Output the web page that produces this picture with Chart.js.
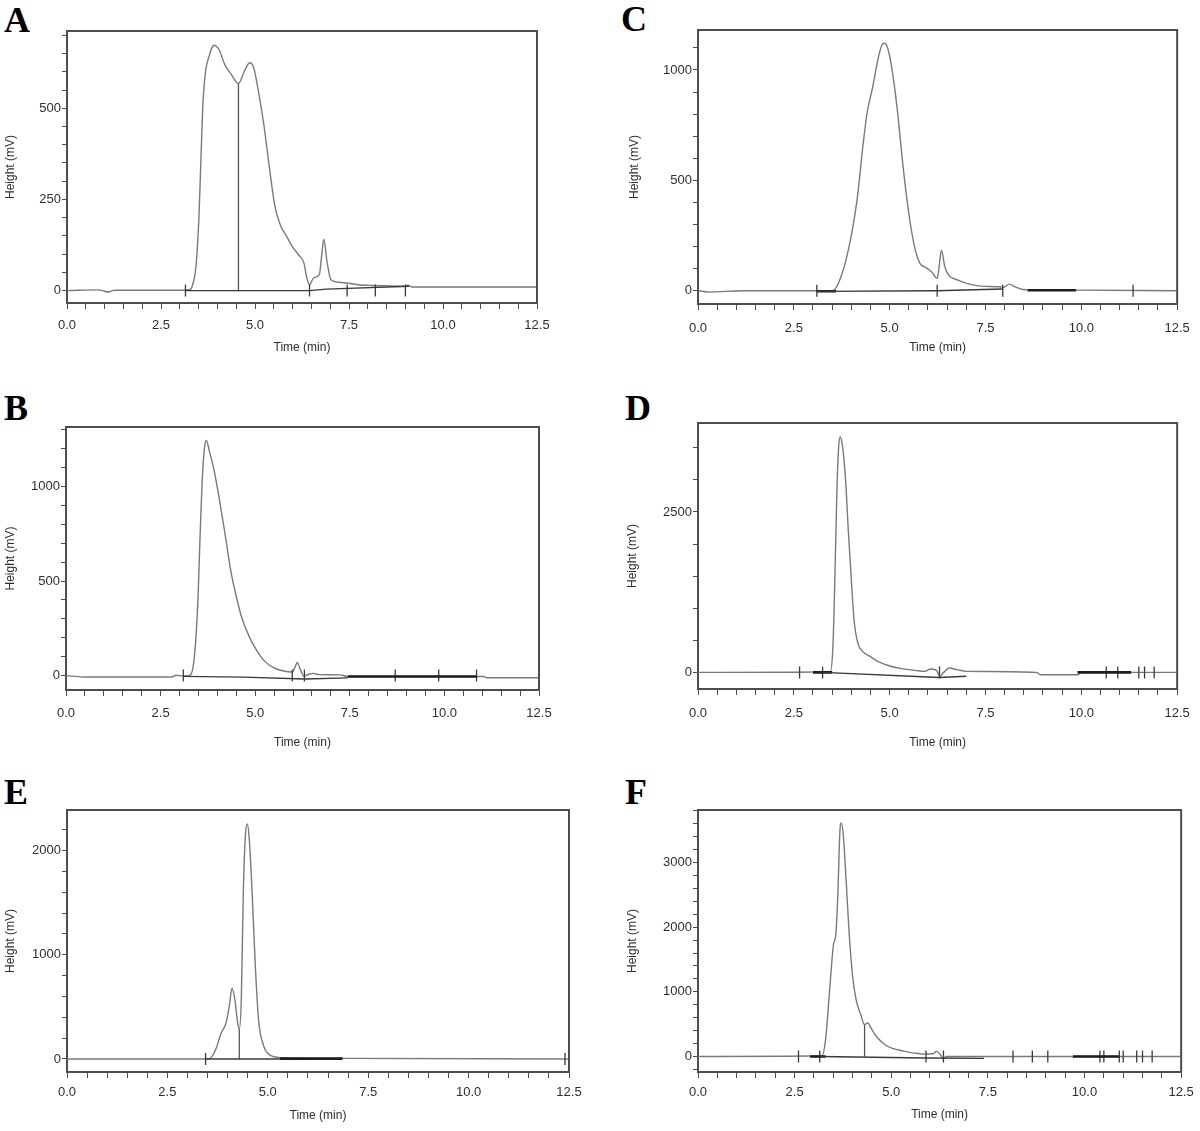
<!DOCTYPE html>
<html>
<head>
<meta charset="utf-8">
<script src="https://cdn.jsdelivr.net/npm/chart.js@4.4.1/dist/chart.umd.min.js"></script>
<style>
  body { margin: 0; background: #fff; width: 1200px; height: 1131px; position: relative; overflow: hidden; }
  canvas { position: absolute; }
  .tag { position: absolute; font-family: 'Liberation Serif', 'DejaVu Serif', serif; font-weight: bold; font-size: 36px; line-height: 36px; color: #000; }
</style>
</head>
<body>
<div class="tag" style="left:4px;top:2px">A</div>
<div class="tag" style="left:621px;top:1px">C</div>
<div class="tag" style="left:4px;top:390px">B</div>
<div class="tag" style="left:625px;top:390px">D</div>
<div class="tag" style="left:4px;top:774px">E</div>
<div class="tag" style="left:625px;top:774px">F</div>
<canvas id="chartA"></canvas>
<canvas id="chartC"></canvas>
<canvas id="chartB"></canvas>
<canvas id="chartD"></canvas>
<canvas id="chartE"></canvas>
<canvas id="chartF"></canvas>
<script>
// общие подписи оси времени
const timeTickValues = [0, 2.5, 5, 7.5, 10, 12.5];
const timeTickLabels = ['0.0', '2.5', '5.0', '7.5', '10.0', '12.5'];

// --- A ---
const timeA = [0, 0.85, 0.95, 1.1, 1.2, 1.3, 3.0, 3.28, 3.33, 3.43, 3.51, 3.57, 3.62, 3.69, 3.79, 3.85, 3.91, 3.97, 4.05, 4.2, 4.35, 4.56, 4.71, 4.82, 4.87, 4.97, 5.07, 5.23, 5.38, 5.53, 5.69, 5.84, 5.99, 6.15, 6.3, 6.37, 6.45, 6.56, 6.71, 6.78, 6.83, 6.92, 7.02, 7.22, 7.43, 7.74, 8.15, 8.97, 9.07, 9.17, 12.5];
const heightA = [0, 2, 0, -4, 0, 1, 1, 3, 12, 67, 203, 386, 523, 605, 646, 665, 673, 670, 660, 619, 596, 568, 600, 622, 625, 610, 559, 459, 340, 231, 176, 149, 121, 99, 76, 39, 16, 35, 44, 103, 141, 76, 30, 23, 21, 16, 14, 12, 15, 10, 10];
const yLabelsA = [0, 250, 500];
const baseTimeA = [3.15, 6.45, 6.9, 9.1];
const baseHeightA = [0, 0, 4, 12];
const thickTimeA = [];
const thickHeightA = [];
const markA = [3.15, 6.45, 7.45, 8.2, 9.0];
const dropTimeA = [4.56];
const dropHeightA = [568];

// --- C ---
const timeC = [0, 0.3, 1.15, 3.5, 3.57, 3.66, 3.76, 3.86, 4.01, 4.16, 4.31, 4.41, 4.56, 4.7, 4.8, 4.87, 4.95, 5.05, 5.2, 5.35, 5.5, 5.65, 5.79, 5.94, 6.09, 6.24, 6.29, 6.35, 6.44, 6.54, 6.78, 7.08, 7.38, 7.87, 7.97, 8.12, 8.27, 8.47, 9.86, 12.5];
const heightC = [0, -6, 0, 0, 6, 33, 79, 139, 260, 426, 668, 804, 925, 1053, 1113, 1121, 1098, 1015, 819, 562, 350, 199, 124, 106, 86, 56, 109, 184, 109, 71, 48, 30, 21, 18, 15, 30, 18, 6, 3, 0];
const yLabelsC = [0, 500, 1000];
const baseTimeC = [3.1, 6.24, 7.95];
const baseHeightC = [-3, 0, 8];
const thickTimeC = [3.1, 3.6, 3.6, 8.6, 9.86];
const thickHeightC = [-2, -2, null, 2, 2];
const markC = [3.1, 6.24, 7.95, 11.35];
const dropTimeC = [];
const dropHeightC = [];

// --- B ---
const timeB = [0, 0.45, 2.8, 2.9, 3.1, 3.28, 3.36, 3.43, 3.49, 3.54, 3.61, 3.67, 3.71, 3.79, 3.91, 4.04, 4.2, 4.35, 4.5, 4.65, 4.86, 5.06, 5.26, 5.47, 5.72, 5.98, 6.06, 6.11, 6.18, 6.28, 6.38, 6.53, 6.69, 7.25, 7.45, 11.06, 11.1, 12.5];
const heightB = [0, -7, -7, 2, -2, 3, 48, 189, 418, 718, 1071, 1220, 1243, 1185, 1088, 947, 753, 559, 418, 303, 198, 127, 74, 44, 26, 19, 48, 69, 39, -2, 4, 12, 5, 4, -5, -5, -11, -11];
const yLabelsB = [0, 500, 1000];
const baseTimeB = [3.1, 4.7, 6.3, 7.45];
const baseHeightB = [-4, -8, -18, -12];
const thickTimeB = [7.45, 10.85];
const thickHeightB = [-5, -5];
const markB = [3.1, 5.98, 6.3, 8.7, 9.85, 10.85];
const dropTimeB = [];
const dropHeightB = [];

// --- D ---
const timeD = [0, 3.45, 3.52, 3.57, 3.62, 3.67, 3.71, 3.77, 3.85, 3.92, 4.0, 4.07, 4.17, 4.29, 4.49, 4.69, 4.98, 5.28, 5.67, 5.92, 6.07, 6.22, 6.31, 6.41, 6.56, 6.76, 7.0, 8.83, 8.93, 9.91, 10.0, 12.5];
const heightD = [0, 10, 405, 1445, 2744, 3524, 3669, 3524, 3004, 2225, 1445, 821, 457, 327, 249, 172, 104, 62, 31, 16, 52, 31, -62, 0, 68, 42, 16, 0, -36, -36, 0, 0];
const yLabelsD = [0, 2500];
const baseTimeD = [3.25, 6.3, 7.0];
const baseHeightD = [0, -80, -60];
const thickTimeD = [3.0, 3.5, 3.5, 9.9, 11.3];
const thickHeightD = [0, 0, null, 0, 0];
const markD = [2.65, 3.25, 6.3, 10.65, 10.95, 11.5, 11.65, 11.9];
const dropTimeD = [];
const dropHeightD = [];

// --- E ---
const timeE = [0, 3.45, 3.56, 3.7, 3.84, 3.96, 4.04, 4.11, 4.18, 4.25, 4.29, 4.34, 4.39, 4.44, 4.49, 4.54, 4.61, 4.69, 4.77, 4.9, 5.04, 5.33, 6.86, 12.5];
const heightE = [0, 0, 6, 89, 249, 345, 505, 680, 569, 345, 288, 569, 1591, 2134, 2256, 2102, 1591, 888, 377, 121, 42, 13, 6, 0];
const yLabelsE = [0, 1000, 2000];
const baseTimeE = [3.45, 5.3];
const baseHeightE = [0, 0];
const thickTimeE = [5.3, 6.86];
const thickHeightE = [3, 3];
const markE = [3.45, 12.4];
const dropTimeE = [4.29];
const dropHeightE = [288];

// --- F ---
const timeF = [0, 3.21, 3.3, 3.4, 3.5, 3.57, 3.62, 3.67, 3.71, 3.76, 3.83, 3.91, 4.0, 4.09, 4.21, 4.31, 4.39, 4.5, 4.65, 4.84, 5.03, 5.32, 5.6, 5.84, 6.08, 6.18, 6.27, 6.34, 6.42, 7.42, 12.5];
const heightF = [0, 10, 259, 984, 1710, 1917, 2539, 3471, 3616, 3420, 2746, 1917, 1243, 881, 648, 492, 518, 414, 285, 181, 124, 83, 52, 36, 41, 78, 26, -36, 0, 0, 0];
const yLabelsF = [0, 1000, 2000, 3000];
const baseTimeF = [3.15, 5.9, 7.4];
const baseHeightF = [0, -25, -30];
const thickTimeF = [2.9, 3.3, 3.3, 9.7, 10.9];
const thickHeightF = [0, 0, null, 0, 0];
const markF = [2.6, 3.15, 5.9, 6.35, 8.15, 8.65, 9.05, 10.4, 10.5, 10.9, 11.0, 11.35, 11.5, 11.75];
const dropTimeF = [4.31];
const dropHeightF = [492];

const fontSans = "'Liberation Sans', Arial, sans-serif";
const TICK_FONT = 13, TITLE_FONT = 12;
const TICK_LH = TICK_FONT * 1.2, TITLE_LH = TITLE_FONT * 1.2;
const TICK_LEN = 6;
const axisColor = '#4d4d4d';
const textColor = '#2e2e2e';

// рамка сверху и справа
const frame = {
    id: 'frame',
    afterDraw(chart) {
        const { ctx, chartArea: a } = chart;
        ctx.save();
        ctx.strokeStyle = axisColor;
        ctx.lineWidth = 2;
        ctx.beginPath();
        ctx.moveTo(a.left, a.top);
        ctx.lineTo(a.right, a.top);
        ctx.lineTo(a.right, a.bottom);
        ctx.stroke();
        ctx.restore();
    }
};

const pts = (xs, ys) => xs.map((x, i) => ({ x: x, y: ys[i] }));
const near = (a, b) => Math.abs(a - b) < 1e-6;

// минорные деления с шагом step
function stepTicks(step) {
    return s => {
        const t = [];
        for (let k = Math.ceil(s.min / step - 1e-9); k * step <= s.max + 1e-9; k++) {
            t.push({ value: Math.round(k * step * 1000) / 1000 });
        }
        s.ticks = t;
    };
}

function makeChart(p) {
    const canvas = document.getElementById(p.id);
    const W = p.width;
    const H = Math.round(p.titleCY + 12 - p.top);
    canvas.width = W; canvas.height = H;
    canvas.style.left = p.left + 'px';
    canvas.style.top = p.top + 'px';
    canvas.style.width = W + 'px';
    canvas.style.height = H + 'px';
    const a = p.area;
    const half = 6 * (p.yMax - p.yMin) / (a.b - a.t);

    const marks = [];
    p.marks.forEach(t => marks.push({ x: t, y: -half }, { x: t, y: half }, { x: t, y: null }));
    const drops = [];
    p.dropTime.forEach((t, i) => drops.push({ x: t, y: 0 }, { x: t, y: p.dropHeight[i] }, { x: t, y: null }));

    const line = (data, color, width) => ({
        data: data, borderColor: color, borderWidth: width,
        showLine: true, pointRadius: 0, spanGaps: false, tension: 0
    });
    const signal = line(pts(p.time, p.height), '#7a7a7a', 1.4);
    signal.cubicInterpolationMode = 'monotone';

    new Chart(canvas, {
        type: 'scatter',
        data: {
            datasets: [
                line(pts(p.baseTime, p.baseHeight), '#3a3a3a', 1.4),
                line(pts(p.thickTime, p.thickHeight), '#1e1e1e', 2.6),
                line(marks, '#3a3a3a', 1.3),
                line(drops, '#555', 1.3),
                signal
            ]
        },
        options: {
            responsive: false,
            animation: false,
            events: [],
            layout: { padding: { left: 0, top: a.t - p.top, right: p.left + W - a.r, bottom: 0 } },
            plugins: { legend: { display: false }, tooltip: { enabled: false } },
            scales: {
                x: {
                    type: 'linear', min: 0, max: 12.5,
                    afterFit: s => { s.height = p.top + H - a.b; },
                    afterBuildTicks: stepTicks(0.5),
                    border: { display: true, color: axisColor, width: 2 },
                    grid: { drawOnChartArea: false, drawTicks: true, tickLength: TICK_LEN, tickColor: axisColor, tickWidth: 1 },
                    ticks: {
                        autoSkip: false, maxRotation: 0,
                        padding: p.tickCY - a.b - TICK_LEN - TICK_LH / 2,
                        color: textColor, font: { family: fontSans, size: TICK_FONT },
                        callback: v => {
                            const i = timeTickValues.findIndex(x => near(x, v));
                            return i >= 0 ? timeTickLabels[i] : '';
                        }
                    },
                    title: {
                        display: true, text: 'Time (min)', color: textColor,
                        font: { family: fontSans, size: TITLE_FONT },
                        padding: { top: 0, bottom: p.top + H - p.titleCY - TITLE_LH / 2 }
                    }
                },
                y: {
                    type: 'linear', min: p.yMin, max: p.yMax,
                    afterFit: s => { s.width = a.l - p.left; },
                    afterBuildTicks: stepTicks(p.minor),
                    border: { display: true, color: axisColor, width: 2 },
                    grid: { drawOnChartArea: false, drawTicks: true, tickLength: 5, tickColor: axisColor, tickWidth: 1 },
                    ticks: {
                        autoSkip: false, padding: 1,
                        color: textColor, font: { family: fontSans, size: TICK_FONT },
                        callback: v => p.yLabels.some(m => near(m, v)) ? String(v) : ''
                    },
                    title: {
                        display: true, text: 'Height (mV)', color: textColor,
                        font: { family: fontSans, size: TITLE_FONT },
                        padding: { top: p.ytitleCX - p.left - TITLE_LH / 2, bottom: 0 }
                    }
                }
            }
        },
        plugins: [frame]
    });
}

const panels = [
    { id: 'chartA', left: 0, top: 0, width: 600, area: { l: 67, t: 31, r: 537, b: 303 }, tickCY: 325, titleCY: 348, ytitleCX: 10.6,
      yMin: -34, yMax: 712, minor: 50, yLabels: yLabelsA,
      time: timeA, height: heightA, baseTime: baseTimeA, baseHeight: baseHeightA, thickTime: thickTimeA, thickHeight: thickHeightA,
      marks: markA, dropTime: dropTimeA, dropHeight: dropHeightA },
    { id: 'chartC', left: 610, top: 0, width: 590, area: { l: 698, t: 30, r: 1184, b: 304 }, tickCY: 328, titleCY: 348, ytitleCX: 635,
      yMin: -60, yMax: 1181, minor: 100, yLabels: yLabelsC,
      time: timeC, height: heightC, baseTime: baseTimeC, baseHeight: baseHeightC, thickTime: thickTimeC, thickHeight: thickHeightC,
      marks: markC, dropTime: dropTimeC, dropHeight: dropHeightC },
    { id: 'chartB', left: 0, top: 380, width: 600, area: { l: 66, t: 427, r: 539, b: 690 }, tickCY: 713, titleCY: 743, ytitleCX: 10.6,
      yMin: -76, yMax: 1314, minor: 100, yLabels: yLabelsB,
      time: timeB, height: heightB, baseTime: baseTimeB, baseHeight: baseHeightB, thickTime: thickTimeB, thickHeight: thickHeightB,
      marks: markB, dropTime: dropTimeB, dropHeight: dropHeightB },
    { id: 'chartD', left: 610, top: 380, width: 590, area: { l: 698, t: 423, r: 1185, b: 689 }, tickCY: 713, titleCY: 743, ytitleCX: 633,
      yMin: -259, yMax: 3887, minor: 500, yLabels: yLabelsD,
      time: timeD, height: heightD, baseTime: baseTimeD, baseHeight: baseHeightD, thickTime: thickTimeD, thickHeight: thickHeightD,
      marks: markD, dropTime: dropTimeD, dropHeight: dropHeightD },
    { id: 'chartE', left: 0, top: 760, width: 600, area: { l: 67, t: 810, r: 569, b: 1072 }, tickCY: 1092, titleCY: 1116, ytitleCX: 10.6,
      yMin: -125, yMax: 2390, minor: 200, yLabels: yLabelsE,
      time: timeE, height: heightE, baseTime: baseTimeE, baseHeight: baseHeightE, thickTime: thickTimeE, thickHeight: thickHeightE,
      marks: markE, dropTime: dropTimeE, dropHeight: dropHeightE },
    { id: 'chartF', left: 610, top: 760, width: 590, area: { l: 698, t: 810, r: 1196, b: 1072 }, tickCY: 1092, titleCY: 1115, ytitleCX: 633,
      yMin: -241, yMax: 3815, minor: 200, yLabels: yLabelsF,
      time: timeF, height: heightF, baseTime: baseTimeF, baseHeight: baseHeightF, thickTime: thickTimeF, thickHeight: thickHeightF,
      marks: markF, dropTime: dropTimeF, dropHeight: dropHeightF }
];

panels.forEach(makeChart);
</script>
</body>
</html>
